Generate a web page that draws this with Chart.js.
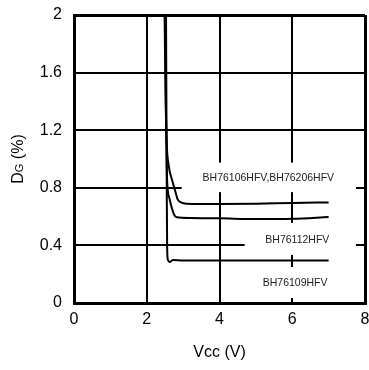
<!DOCTYPE html>
<html>
<head>
<meta charset="utf-8">
<script src="https://cdn.jsdelivr.net/npm/chart.js@4/dist/chart.umd.min.js"></script>
<style>
  html, body { margin: 0; padding: 0; background: #fff; }
  #wrap { width: 369px; height: 370px; }
</style>
</head>
<body>
<div id="wrap"><canvas id="dgChart"></canvas></div>
<script>
// Ticks
const xTicks = [0, 2, 4, 6, 8];
const yTicks = [0, 0.4, 0.8, 1.2, 1.6, 2];

// Series labels
const seriesNames = ['BH76106HFV,BH76206HFV', 'BH76112HFV', 'BH76109HFV'];

// BH76106HFV / BH76206HFV
const vccA = [2.49, 2.52, 2.55, 2.60, 2.70, 2.78, 2.85, 2.93, 3.1, 4.0, 5.0, 6.0, 7.0];
const dgA  = [2.0, 1.4, 1.1, 0.96, 0.85, 0.78, 0.72, 0.70, 0.69, 0.688, 0.69, 0.695, 0.698];

// BH76112HFV
const vccB = [2.50, 2.53, 2.56, 2.62, 2.69, 2.76, 2.83, 3.2, 4.0, 5.0, 6.0, 7.0];
const dgB  = [2.0, 1.3, 0.85, 0.73, 0.66, 0.61, 0.595, 0.59, 0.588, 0.583, 0.585, 0.597];

// BH76109HFV
const vccC = [2.53, 2.55, 2.56, 2.58, 2.63, 2.72, 3.0, 5.0, 7.0];
const dgC  = [2.0, 0.8, 0.4, 0.3, 0.285, 0.298, 0.295, 0.295, 0.295];

const FONT = "'Liberation Sans', Arial, sans-serif";

function toPoints(xs, ys) {
    return xs.map((x, i) => ({ x: x, y: ys[i] }));
}

function curve(xs, ys) {
    return {
        data: toPoints(xs, ys),
        borderColor: '#000',
        borderWidth: 2,
        pointRadius: 0,
        fill: false,
        cubicInterpolationMode: 'monotone'
    };
}

// white label boxes with the series names (box in data units, text right edge)
const labelBoxes = [
    { name: seriesNames[0], x0: 2.96, x1: 7.75, y0: 0.77, y1: 0.975, tx: 7.15, ty: 0.866 },
    { name: seriesNames[1], x0: 4.69, x1: 7.75, y0: 0.334, y1: 0.556, tx: 7.02, ty: 0.438 },
    { name: seriesNames[2], x0: 4.69, x1: 7.75, y0: 0.035, y1: 0.25, tx: 6.97, ty: 0.139 }
];

const labelPlugin = {
    id: 'labelPlugin',
    beforeDatasetsDraw(chart) {
        const { ctx, scales: { x, y } } = chart;
        ctx.save();
        labelBoxes.forEach(b => {
            const l = x.getPixelForValue(b.x0), r = x.getPixelForValue(b.x1);
            const t = y.getPixelForValue(b.y1), bt = y.getPixelForValue(b.y0);
            ctx.fillStyle = '#fff';
            ctx.fillRect(l, t, r - l, bt - t);
            ctx.fillStyle = '#222';
            ctx.font = '10.5px ' + FONT;
            ctx.textAlign = 'right';
            ctx.textBaseline = 'middle';
            ctx.fillText(b.name, x.getPixelForValue(b.tx), y.getPixelForValue(b.ty));
        });
        ctx.restore();
    },
    afterDraw(chart) {
        // y axis title: D with small G, same baseline
        const { ctx, chartArea } = chart;
        const cy = (chartArea.top + chartArea.bottom) / 2;
        ctx.save();
        ctx.translate(23, cy);
        ctx.rotate(-Math.PI / 2);
        ctx.fillStyle = '#000';
        ctx.textBaseline = 'alphabetic';
        ctx.textAlign = 'left';
        const big = '16px ' + FONT, small = '11px ' + FONT;
        ctx.font = big;
        const wD = ctx.measureText('D').width;
        const wRest = ctx.measureText(' (%)').width;
        ctx.font = small;
        const wG = ctx.measureText('G').width;
        let sx = -(wD + wG + wRest) / 2;
        ctx.font = big;
        ctx.fillText('D', sx, 0);
        ctx.font = small;
        ctx.fillText('G', sx + wD, 0);
        ctx.font = big;
        ctx.fillText(' (%)', sx + wD + wG, 0);
        ctx.restore();
    }
};

const edgeWidth = c => (c.index === 0 || c.index === c.scale.ticks.length - 1) ? 3 : 2;

new Chart(document.getElementById('dgChart'), {
    type: 'line',
    data: {
        datasets: [curve(vccA, dgA), curve(vccB, dgB), curve(vccC, dgC)]
    },
    options: {
        responsive: true,
        maintainAspectRatio: false,
        animation: false,
        layout: { padding: { top: 15, right: 4, left: 0, bottom: 0 } },
        plugins: {
            legend: { display: false },
            tooltip: { enabled: false }
        },
        scales: {
            x: {
                type: 'linear',
                min: 0,
                max: 8,
                afterBuildTicks: s => { s.ticks = xTicks.map(v => ({ value: v })); },
                afterFit: s => {
                    s.height = 67;
                    s.paddingLeft = 0;
                    s.paddingRight = 0;
                },
                ticks: {
                    color: '#000',
                    padding: 7,
                    font: { family: FONT, size: 16 },
                    maxRotation: 0
                },
                grid: { color: '#000', lineWidth: edgeWidth, drawTicks: false },
                border: { color: '#000', width: 3 },
                title: {
                    display: true,
                    text: 'Vcc (V)',
                    color: '#000',
                    font: { family: FONT, size: 16 },
                    padding: { top: 0, bottom: 8 }
                }
            },
            y: {
                type: 'linear',
                min: 0,
                max: 2,
                afterBuildTicks: s => { s.ticks = yTicks.map(v => ({ value: v })); },
                afterFit: s => {
                    s.width = 74;
                    s.paddingTop = 0;
                    s.paddingBottom = 0;
                },
                ticks: {
                    color: '#000',
                    padding: 12,
                    font: { family: FONT, size: 16 },
                    callback: v => String(v)
                },
                grid: { color: '#000', lineWidth: edgeWidth, drawTicks: false },
                border: { color: '#000', width: 3 }
            }
        }
    },
    plugins: [labelPlugin]
});
</script>
</body>
</html>
